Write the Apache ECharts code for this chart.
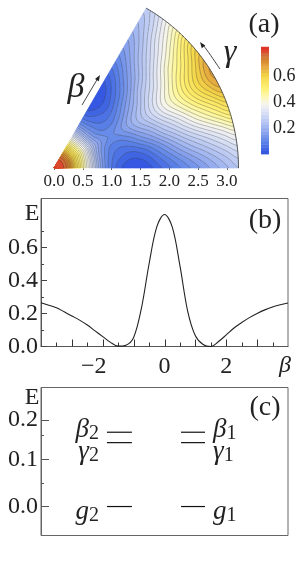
<!DOCTYPE html>
<html><head><meta charset="utf-8">
<style>html,body{margin:0;padding:0;background:#fff}#c{width:300px;height:562px}</style>
<script src="https://cdn.jsdelivr.net/npm/echarts@6/dist/echarts.min.js"></script>
</head><body><div id="c"></div>
<script>
// ---- panel (a): energy surface, one list per gamma (degrees)
const betaKnots = [0,0.2,0.4,0.6,0.8,1.0,1.2,1.4,1.6,1.8,2.0,2.2,2.4,2.6,2.8,3.0,3.2];
const gammaKnots = [0,10,20,30,40,50,60];
const E_gamma0  = [0.80,0.76,0.56,0.37,0.18,0.075,0.02,0.0,0.01,0.04,0.07,0.10,0.13,0.16,0.19,0.22,0.25];
const E_gamma10 = [0.80,0.76,0.56,0.37,0.18,0.085,0.05,0.04,0.06,0.10,0.145,0.19,0.23,0.265,0.30,0.335,0.37];
const E_gamma20 = [0.80,0.76,0.56,0.38,0.19,0.105,0.085,0.105,0.15,0.195,0.25,0.30,0.355,0.41,0.46,0.51,0.56];
const E_gamma30 = [0.80,0.76,0.57,0.39,0.21,0.135,0.125,0.16,0.21,0.26,0.32,0.385,0.44,0.50,0.565,0.625,0.68];
const E_gamma40 = [0.80,0.76,0.56,0.38,0.19,0.105,0.085,0.105,0.15,0.20,0.26,0.31,0.37,0.43,0.48,0.54,0.60];
const E_gamma50 = [0.80,0.76,0.56,0.37,0.18,0.085,0.05,0.04,0.065,0.105,0.155,0.205,0.255,0.30,0.345,0.385,0.42];
const E_gamma60 = [0.80,0.76,0.56,0.37,0.18,0.07,0.015,0.0,0.005,0.035,0.075,0.115,0.15,0.18,0.21,0.235,0.26];
const radiusTicks = [0,0.5,1,1.5,2,2.5,3];
const levelStep = 0.025;
const colorStops = [[0,'#2f52e0'],[0.1,'#5f85e8'],[0.2,'#9db2f0'],[0.3,'#d0daf6'],[0.38,'#f4f4f2'],[0.44,'#fbf8b8'],[0.5,'#fff27a'],[0.6,'#f3d648'],[0.66,'#e8ae40'],[0.72,'#d88a32'],[0.76,'#d0703a'],[0.8,'#e03a28'],[0.83,'#e03026']];
const colorbarTicks = [0.2,0.4,0.6];

// ---- panel (b)
const betaCut = [-4,-3.75,-3.5,-3.25,-3,-2.75,-2.5,-2.25,-2,-1.75,-1.5,-1.25,-1,-0.75,-0.5,-0.25,0,0.25,0.5,0.75,1,1.25,1.5,1.75,2,2.25,2.5,2.75,3,3.25,3.5,3.75,4];
const energyCut = [0.265,0.25,0.235,0.21,0.185,0.16,0.13,0.095,0.06,0.025,0.002,0.008,0.055,0.23,0.5,0.725,0.80,0.725,0.49,0.215,0.065,0.012,0.0,0.03,0.07,0.112,0.145,0.175,0.2,0.222,0.24,0.253,0.264];
const cutYLabels = [0,0.2,0.4,0.6];
const cutYMinor = [0.1,0.3,0.5,0.7];
const cutXMajor = [-3,-2,-1,0,1,2,3];
const cutXMinor = [-3.5,-2.5,-1.5,-0.5,0.5,1.5,2.5,3.5];
const cutXLabels = [-2,0,2];

// ---- panel (c)
const levelNames = ['beta','gamma','g'];
const levelEnergies = [0.157,0.135,0];
const levelSubscriptLeft = '2', levelSubscriptRight = '1';
const levelYTicks = [0,0.1,0.183];
const levelYTickTexts = ['0.0','0.1','0.2'];
const levelYMinor = [0.0494,0.1515];

const serif = '"Liberation Serif",serif';
const dark = '#222', frame = '#666';

function hexRgb(h){return [1,3,5].map(i=>parseInt(h.substr(i,2),16));}
function colorAt(v){
  for(let i=1;i<colorStops.length;i++){
    if(v<=colorStops[i][0]){
      const a=colorStops[i-1],b=colorStops[i],t=(v-a[0])/(b[0]-a[0]);
      const A=hexRgb(a[1]),B=hexRgb(b[1]);
      return 'rgb('+A.map((x,k)=>Math.round(x+(B[k]-x)*t)).join(',')+')';
    }
  }
  return colorStops[colorStops.length-1][1];
}
const table = [E_gamma0,E_gamma10,E_gamma20,E_gamma30,E_gamma40,E_gamma50,E_gamma60];
const points = [];
gammaKnots.forEach((g,j)=>betaKnots.forEach((b,i)=>points.push([b,g,table[j][i]])));

// drawing-only smoothing of the read table so contours are not polygonal
function cr(p0,p1,p2,p3,t){return 0.5*(2*p1+(p2-p0)*t+(2*p0-5*p1+4*p2-p3)*t*t+(3*p1-p0-3*p2+p3)*t*t*t);}
function field(u,v){
  const nj=table.length-1,ni=betaKnots.length-1;
  const j=Math.min(Math.floor(v),nj-1),i=Math.min(Math.floor(u),ni-1);
  const tv=v-j,tu=u-i,row=[];
  for(let k=-1;k<=2;k++){
    const c=table[Math.max(0,Math.min(nj,j+k))];
    row.push(cr(c[Math.max(0,i-1)],c[i],c[Math.min(ni,i+1)],c[Math.min(ni,i+2)],tu));
  }
  return cr(row[0],row[1],row[2],row[3],tv);
}
const SUBU=10,SUBV=16,NU=(betaKnots.length-1)*SUBU,NV=(gammaKnots.length-1)*SUBV;
const F=[];
for(let i=0;i<=NU;i++){F.push([]);for(let j=0;j<=NV;j++)F[i].push(field(i/SUBU,j/SUBV));}
const bMax=betaKnots[betaKnots.length-1],gMax=gammaKnots[gammaKnots.length-1];
const BE=i=>bMax*i/NU, GA=j=>gMax*j/NV;

function renderSurface(params,api){
  if(params.dataIndex!==0) return null;
  const P=(b,g)=>{const p=api.coord([b,g]);return p[0].toFixed(2)+' '+p[1].toFixed(2);};
  const bands={};
  for(let i=0;i<NU;i++)for(let j=0;j<NV;j++){
    const e=(F[i][j]+F[i+1][j]+F[i][j+1]+F[i+1][j+1])/4;
    const k=Math.max(0,Math.floor(e/levelStep));
    (bands[k]=bands[k]||[]).push('M'+P(BE(i),GA(j))+'L'+P(BE(i+1),GA(j))+'L'+P(BE(i+1),GA(j+1))+'L'+P(BE(i),GA(j+1))+'Z');
  }
  const children=[];
  Object.keys(bands).forEach(k=>{
    const c=colorAt((+k+0.5)*levelStep);
    children.push({type:'path',shape:{pathData:bands[k].join('')},style:{fill:c,stroke:c,lineWidth:0.7}});
  });
  for(let l=levelStep;l<0.8;l+=levelStep){
    const seg=[];
    for(let i=0;i<NU;i++)for(let j=0;j<NV;j++){
      const c=[[i,j],[i+1,j],[i+1,j+1],[i,j+1]],pts=[];
      for(let e=0;e<4;e++){
        const a=c[e],b=c[(e+1)%4],va=F[a[0]][a[1]],vb=F[b[0]][b[1]];
        if((va<l)!==(vb<l)){
          const t=(l-va)/(vb-va);
          pts.push(P(BE(a[0]+(b[0]-a[0])*t),GA(a[1]+(b[1]-a[1])*t)));
        }
      }
      if(pts.length>=2) seg.push('M'+pts[0]+'L'+pts[1]);
      if(pts.length===4) seg.push('M'+pts[2]+'L'+pts[3]);
    }
    if(seg.length) children.push({type:'path',shape:{pathData:seg.join('')},style:{fill:'none',stroke:'rgba(40,40,40,0.5)',lineWidth:0.6}});
  }
  let arc='';
  for(let j=0;j<=NV;j++) arc+=(j?'L':'M')+P(bMax,GA(j));
  children.push({type:'path',shape:{pathData:arc},style:{fill:'none',stroke:'#555',lineWidth:1}});
  return {type:'group',children};
}
function renderColorbar(params,api){
  const lo=api.value(0),s=api.size([0,levelStep]);
  const p=api.coord([0,lo+levelStep]),x=params.coordSys.x;
  return {type:'rect',shape:{x:x,y:p[1],width:params.coordSys.width,height:s[1]+0.4},style:{fill:colorAt(lo+levelStep/2)}};
}
const barData=[];
for(let k=0;k<33;k++) barData.push([k*levelStep]);

function renderXTick(params,api){
  const p=api.coord([api.value(0),0]),len=api.value(1),x=Math.round(p[0])+0.5;
  return {type:'line',shape:{x1:x,y1:p[1],x2:x,y2:p[1]-len},style:{stroke:'#333',lineWidth:1}};
}

const levelX=[[0.267,0.368],[0.567,0.664]];
function levelSeries(idx,side){
  const y=levelEnergies[idx],name=levelNames[idx];
  const sym={beta:'β',gamma:'γ',g:'g'}[name];
  const sub=side===0?levelSubscriptLeft:levelSubscriptRight;
  const off={beta:-2,gamma:9,g:5}[name];
  const xs=levelX[side];
  const lbl={show:true,position:side===0?'left':'right',distance:8,offset:[0,off],
    formatter:'{s|'+sym+'}{n|'+sub+'}',
    rich:{s:{fontFamily:serif,fontStyle:'italic',fontSize:27,color:dark,lineHeight:28},
          n:{fontFamily:serif,fontSize:20,color:dark,padding:[8,0,0,0],lineHeight:28}}};
  const data=side===0?[{value:[xs[0],y],label:lbl},{value:[xs[1],y],label:{show:false}}]
                     :[{value:[xs[0],y],label:{show:false}},{value:[xs[1],y],label:lbl}];
  return {type:'line',xAxisIndex:2,yAxisIndex:3,data,symbol:'circle',symbolSize:0,showSymbol:true,silent:true,lineStyle:{color:'#111',width:1.2}};
}
function arrowHead(x,y,ang){
  const L=6,W=2.2,c=Math.cos(ang),s=Math.sin(ang);
  return [[x,y],[x-L*c+W*s,y-L*s-W*c],[x-L*c-W*s,y-L*s+W*c]];
}
const T=(text,x,y,size,extra)=>({type:'text',x,y,silent:true,style:Object.assign({text,fill:dark,font:size+'px '+serif,textAlign:'center',textVerticalAlign:'middle'},extra||{})});

const option={
  animation:false,backgroundColor:'#fff',
  polar:{center:[54,168],radius:184.5},
  angleAxis:{type:'value',min:0,max:360,startAngle:0,clockwise:false,show:false},
  radiusAxis:{type:'value',min:0,max:3.2,show:false},
  grid:[
    {left:261,top:47,width:8,height:105.5,show:false},
    {left:41,top:198.5,width:247,height:148,show:true,borderColor:frame,borderWidth:1},
    {left:41,top:387.5,width:247,height:148,show:true,borderColor:frame,borderWidth:1},
    {left:54,top:160,width:184.5,height:8,show:false}
  ],
  xAxis:[
    {gridIndex:0,type:'value',min:0,max:1,show:false},
    {gridIndex:1,type:'value',position:'bottom',min:-4,max:4,splitLine:{show:false},
      axisLine:{onZero:false,lineStyle:{color:'#555'}},axisTick:{show:false},
      axisLabel:{margin:8,fontFamily:serif,fontSize:24,color:dark,customValues:cutXLabels,
        formatter:v=>v<0?'−'+(-v)+'   ':String(v)}},
    {gridIndex:2,type:'value',min:0,max:1,show:false},
    {gridIndex:3,type:'value',min:0,max:3.2,splitLine:{show:false},axisLine:{show:false},
      axisTick:{show:true,length:2,customValues:radiusTicks,lineStyle:{color:'#666'}},
      axisLabel:{margin:5,fontFamily:serif,fontSize:17,color:dark,customValues:radiusTicks,formatter:v=>v.toFixed(1)}}
  ],
  yAxis:[
    {gridIndex:0,type:'value',min:0.0115,max:0.823,position:'right',splitLine:{show:false},
      axisLine:{show:false},axisTick:{show:false},
      axisLabel:{margin:4,fontFamily:serif,fontSize:18,color:dark,customValues:colorbarTicks,formatter:v=>v.toFixed(1)}},
    {gridIndex:1,type:'value',position:'left',min:0,max:0.897,splitLine:{show:false},axisLine:{onZero:false,lineStyle:{color:'#555'}},
      axisTick:{inside:true,length:6,customValues:cutYLabels,lineStyle:{color:'#444'}},
      axisLabel:{margin:3,fontFamily:serif,fontSize:24,color:dark,customValues:cutYLabels,formatter:v=>v.toFixed(1)}},
    {gridIndex:1,type:'value',position:'left',min:0,max:0.897,splitLine:{show:false},axisLine:{show:false,onZero:false},
      axisTick:{inside:true,length:3,customValues:cutYMinor,lineStyle:{color:'#444'}},axisLabel:{show:false}},
    {gridIndex:2,type:'value',position:'left',min:-0.0612,max:0.2515,splitLine:{show:false},axisLine:{onZero:false,lineStyle:{color:'#666'}},
      axisTick:{inside:true,length:8,customValues:levelYTicks,lineStyle:{color:'#555'}},
      axisLabel:{margin:3,fontFamily:serif,fontSize:24,color:dark,customValues:levelYTicks,
        formatter:v=>levelYTickTexts[levelYTicks.indexOf(v)]}},
    {gridIndex:2,type:'value',position:'left',min:-0.0612,max:0.2515,splitLine:{show:false},axisLine:{show:false,onZero:false},
      axisTick:{inside:true,length:3,customValues:levelYMinor,lineStyle:{color:'#555'}},axisLabel:{show:false}},
    {gridIndex:3,type:'value',min:0,max:1,show:false}
  ],
  series:[
    {type:'custom',coordinateSystem:'polar',data:points,encode:{radius:0,angle:1},renderItem:renderSurface,silent:true,clip:false},
    {type:'custom',xAxisIndex:0,yAxisIndex:0,data:barData,encode:{y:0},renderItem:renderColorbar,silent:true},
    {type:'custom',xAxisIndex:1,yAxisIndex:1,silent:true,clip:false,encode:{x:0},renderItem:renderXTick,
      data:cutXMajor.map(v=>[v,7]).concat(cutXMinor.map(v=>[v,4]))},
    {type:'line',xAxisIndex:1,yAxisIndex:1,data:betaCut.map((b,i)=>[b,energyCut[i]]),symbol:'none',smooth:0.35,silent:true,lineStyle:{color:'#222',width:1.1}},
    levelSeries(0,0),levelSeries(1,0),levelSeries(2,0),levelSeries(0,1),levelSeries(1,1),levelSeries(2,1)
  ],
  graphic:[
    T('(a)',264,25,28),T('(b)',265,221,28),T('(c)',265,408,28),
    T('E',32,214,24),T('E',32,398,24),
    T('β',76,88,34,{font:'italic 34px '+serif}),
    T('γ',230,53,32,{font:'italic 32px '+serif}),
    T('β',285,366,24,{font:'italic 24px '+serif}),
    {type:'line',silent:true,shape:{x1:82,y1:105,x2:98,y2:78},style:{stroke:'#333',lineWidth:0.9}},
    {type:'polygon',silent:true,shape:{points:arrowHead(100,75,Math.atan2(-30,18))},style:{fill:'#222'}},
    {type:'bezierCurve',silent:true,shape:{x1:220,y1:69,cpx1:213,cpy1:59,cpx2:208,cpy2:51,x2:203,y2:45},style:{stroke:'#333',lineWidth:0.9,fill:'none'}},
    {type:'polygon',silent:true,shape:{points:arrowHead(200,42,Math.atan2(-27,-20))},style:{fill:'#222'}}
  ]
};
const chart=echarts.init(document.getElementById('c'),null,{renderer:'canvas'});
chart.setOption(option);
</script></body></html>
